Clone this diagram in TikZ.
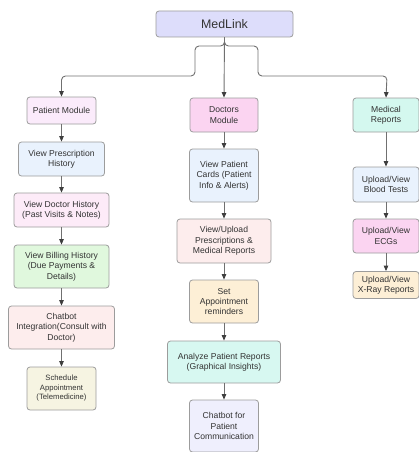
\documentclass[tikz,border=0pt]{standalone}
\usepackage{fontspec}
\setmainfont{Liberation Sans}
\usetikzlibrary{positioning, arrows.meta}

\definecolor{edgeGray}{HTML}{9C9C9C}
\definecolor{linkGray}{HTML}{707070}
\definecolor{tipGray}{HTML}{3E3E3E}
\definecolor{textGray}{HTML}{333333}
\definecolor{cLavender}{HTML}{DDDDFB}
\definecolor{cLilac}{HTML}{FBEBFB}
\definecolor{cPink}{HTML}{FBD4F1}
\definecolor{cMint}{HTML}{D4F8EF}
\definecolor{cBlue}{HTML}{E9F2FD}
\definecolor{cRosePale}{HTML}{FDEBF8}
\definecolor{cGreen}{HTML}{E0F8DD}
\definecolor{cRose}{HTML}{FDEDED}
\definecolor{cBeige}{HTML}{F6F4E2}
\definecolor{cPeach}{HTML}{FDEFD6}
\definecolor{cAqua}{HTML}{D7F8F1}
\definecolor{cPaleViolet}{HTML}{EFEFFD}

\begin{document}
\begin{tikzpicture}[x=1pt, y=1pt, on grid,
  box/.style={draw=edgeGray, line width=0.8pt, rounded corners=3pt, align=center,
    inner sep=1pt, text=textGray, font=\fontsize{8.6}{10.4}\selectfont},
  link/.style={-{Triangle[length=5.5pt,width=4.5pt,color=tipGray]}, draw=linkGray, line width=0.9pt}]
  \useasboundingbox (0,0) rectangle (419,-452);

  % root and the three modules
  \node[box, fill=cLavender, minimum width=137, minimum height=26,
    font=\fontsize{12.4}{14}\selectfont] (root) at (224.5,-24) {MedLink};
  \node[box, fill=cLilac, minimum width=69, minimum height=27] (pmod) at (61.5,-110.5) {Patient Module};
  \node[box, fill=cPink, minimum width=68, minimum height=34] (dmod) at (224,-115) {Doctors\\Module};
  \node[box, fill=cMint, minimum width=66, minimum height=34] (rmod) at (386,-115) {Medical\\Reports};

  % patient column
  \node[box, fill=cBlue, minimum width=86, minimum height=34] (p1) [below=48.5 of pmod] {View Prescription\\History};
  \node[box, fill=cRosePale, minimum width=95, minimum height=34] (p2) [below=51 of p1] {View Doctor History\\(Past Visits \& Notes)};
  \node[box, fill=cGreen, minimum width=95, minimum height=43] (p3) [below=56.5 of p2] {View Billing History\\(Due Payments \&\\Details)};
  \node[box, fill=cRose, minimum width=106, minimum height=43] (p4) [below=61 of p3] {Chatbot\\Integration(Consult with\\Doctor)};
  \node[box, fill=cBeige, minimum width=69, minimum height=43,
    font=\fontsize{7.7}{9.5}\selectfont] (p5) [below=61 of p4] {Schedule\\Appointment\\(Telemedicine)};

  % doctors column
  \node[box, fill=cBlue, minimum width=69, minimum height=53] (d1) [below=60.5 of dmod] {View Patient\\Cards (Patient\\Info \& Alerts)};
  \node[box, fill=cRose, minimum width=94, minimum height=44] (d2) [below=65.5 of d1] {View/Upload\\Prescriptions \&\\Medical Reports};
  \node[box, fill=cPeach, minimum width=69, minimum height=43] (d3) [below=60.5 of d2] {Set\\Appointment\\reminders};
  \node[box, fill=cAqua, minimum width=113, minimum height=42] (d4) [below=60.5 of d3] {Analyze Patient Reports\\(Graphical Insights)};
  \node[box, fill=cPaleViolet, minimum width=69, minimum height=52] (d5) [below=64 of d4] {Chatbot for\\Patient\\Communication};

  % reports column
  \node[box, fill=cBlue, minimum width=66, minimum height=35] (r1) [below=69.5 of rmod] {Upload/View\\Blood Tests};
  \node[box, fill=cPink, minimum width=66, minimum height=34] (r2) [below=51.5 of r1] {Upload/View\\ECGs};
  \node[box, fill=cPeach, minimum width=66, minimum height=27] (r3) [below=49 of r2] {Upload/View\\X-Ray Reports};

  % fork from the root
  \coordinate (forkL) at (195,-46);
  \coordinate (dropL) at (61.5,-76);
  \coordinate (forkR) at (258,-46);
  \coordinate (dropR) at (387,-76);
  \draw[link, rounded corners=4pt] (root.south) |- (forkL) |- (dropL) -- (pmod.north);
  \draw[link, rounded corners=4pt] (root.south) |- (forkR) |- (dropR) -- (rmod.north);
  \draw[link] (root.south) -- (dmod.north);

  \path[link] (pmod) edge (p1) (p1) edge (p2) (p2) edge (p3) (p3) edge (p4) (p4) edge (p5)
              (dmod) edge (d1) (d1) edge (d2) (d2) edge (d3) (d3) edge (d4) (d4) edge (d5)
              (rmod) edge (r1) (r1) edge (r2) (r2) edge (r3);
\end{tikzpicture}
\end{document}
